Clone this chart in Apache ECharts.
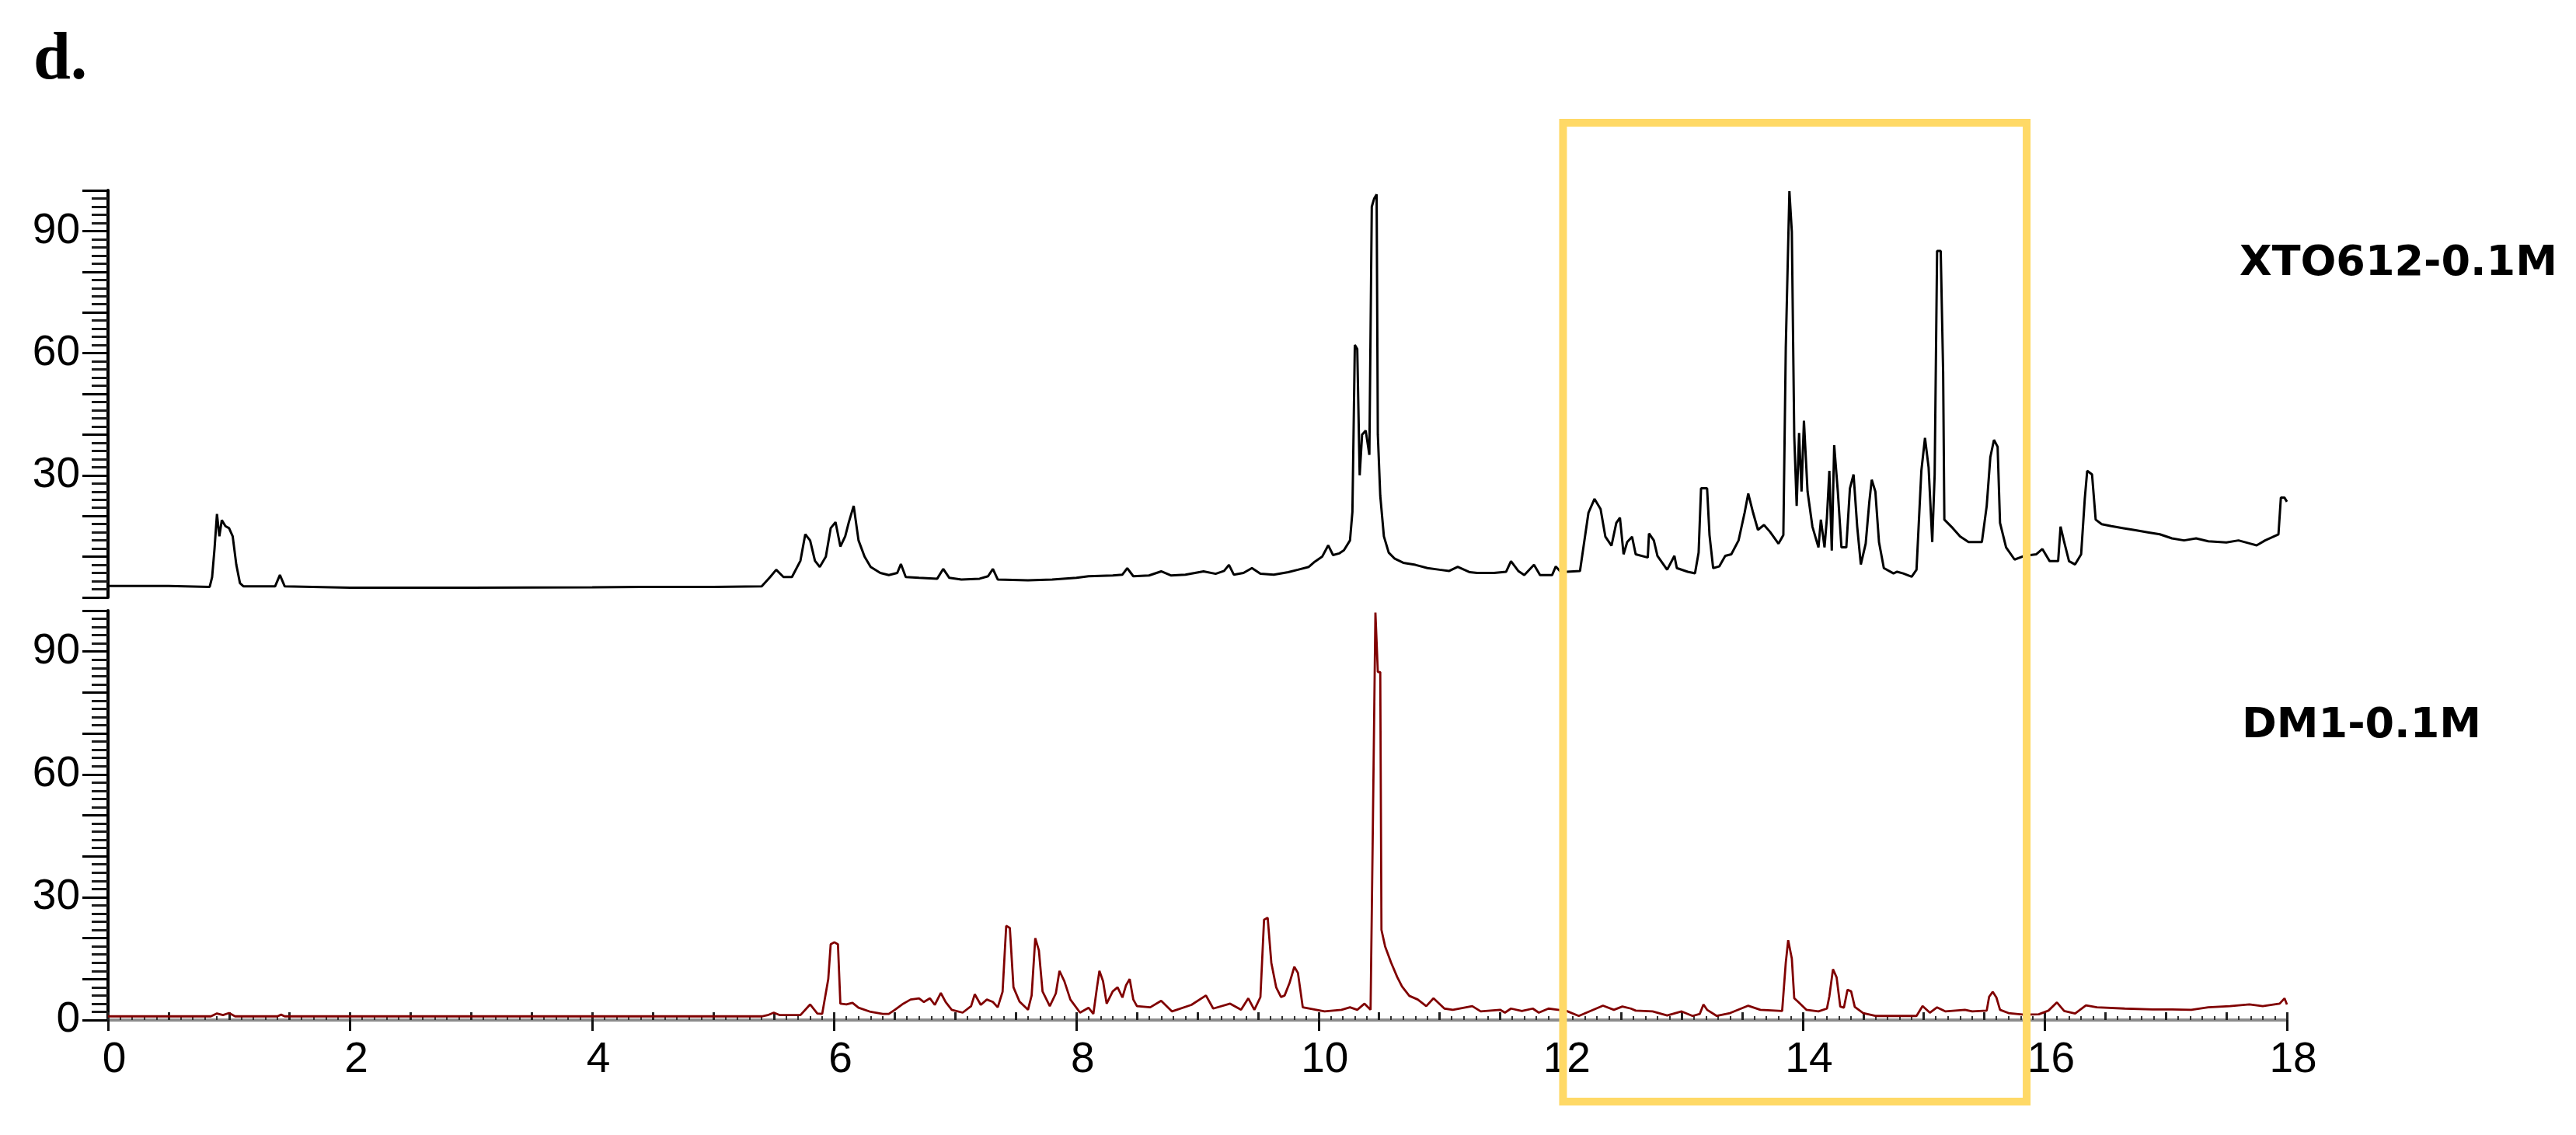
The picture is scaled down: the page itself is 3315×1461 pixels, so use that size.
<!DOCTYPE html>
<html><head><meta charset="utf-8">
<script src="https://cdn.jsdelivr.net/npm/echarts@6/dist/echarts.min.js"></script>
<style>html,body{margin:0;padding:0;background:#fff}#c{width:3315px;height:1461px}</style>
</head><body><div id="c"></div>
<script>
const panelLabel = 'd.';
const xtoName = 'XTO612-0.1M';
const dmName = 'DM1-0.1M';
const timeRange = [0, 18];
const intensityRange = [0, 100];
const highlightRange = [12.02, 15.85];

// XTO612-0.1M chromatogram: [retention time, relative intensity]
const xto612 = [
 [0,2.8],[0.5,2.8],[0.84,2.6],[0.86,5],[0.88,12],[0.9,20.5],[0.92,15],[0.94,19],[0.97,17.5],[1.0,17],[1.03,15],[1.06,8],[1.09,3.5],[1.12,2.7],
 [1.38,2.7],[1.42,5.5],[1.46,2.7],[2.0,2.4],[3.0,2.4],[4.0,2.5],[4.4,2.6],[5.0,2.6],[5.4,2.7],[5.47,5],[5.52,6.8],[5.58,5],[5.65,5],[5.72,9],
 [5.76,15.5],[5.8,14],[5.84,9],[5.88,7.5],[5.93,10],[5.97,17],[6.01,18.5],[6.05,12.5],[6.09,15],[6.12,18.5],[6.16,22.5],[6.2,14],[6.25,10],
 [6.3,7.5],[6.38,6],[6.45,5.5],[6.52,6],[6.55,8.2],[6.59,5],[6.7,4.8],[6.85,4.6],[6.9,7],[6.95,4.8],[7.05,4.4],[7.2,4.6],[7.27,5.2],[7.31,7],
 [7.35,4.4],[7.6,4.2],[7.8,4.4],[8.0,4.8],[8.1,5.2],[8.3,5.4],[8.38,5.6],[8.42,7.2],[8.47,5.2],[8.6,5.4],[8.7,6.4],[8.78,5.4],[8.9,5.6],
 [9.05,6.4],[9.15,5.8],[9.22,6.5],[9.26,8],[9.3,5.6],[9.38,6],[9.45,7.2],[9.52,5.8],[9.63,5.6],[9.75,6.2],[9.83,6.8],[9.92,7.5],[9.97,8.8],
 [10.03,10],[10.08,12.8],[10.12,10.4],[10.17,10.8],[10.21,11.6],[10.26,14],[10.28,21],[10.30,62],[10.32,61],[10.34,30],[10.36,40],[10.39,41],
 [10.42,35],[10.44,96],[10.46,98],[10.48,99],[10.49,40],[10.51,25],[10.54,15],[10.58,11],[10.63,9.5],[10.7,8.5],[10.8,8],[10.9,7.2],[11.0,6.8],
 [11.08,6.5],[11.15,7.5],[11.25,6.2],[11.31,6],[11.45,6],[11.55,6.3],[11.59,8.9],[11.65,6.5],[11.7,5.5],[11.78,8],[11.83,5.5],[11.93,5.5],
 [11.96,7.6],[12.0,6.3],[12.05,6.3],[12.16,6.5],[12.18,10.6],[12.23,20.8],[12.28,24.2],[12.33,21.7],[12.37,14.9],[12.42,12.7],[12.46,18.3],
 [12.49,19.6],[12.52,10.6],[12.55,13.6],[12.59,14.9],[12.62,10.6],[12.72,9.8],[12.73,15.7],[12.77,14],[12.8,10.2],[12.88,6.8],[12.94,10.2],
 [12.96,7.2],[13.05,6.3],[13.11,5.9],[13.14,11],[13.16,26.8],[13.21,26.8],[13.23,15.3],[13.26,7.2],[13.31,7.6],[13.36,10.2],[13.41,10.6],
 [13.47,14],[13.52,20.8],[13.55,25.5],[13.59,20.8],[13.63,16.6],[13.68,17.8],[13.73,16.1],[13.8,13.2],[13.84,15.3],[13.86,61.3],[13.89,99.8],
 [13.91,89.8],[13.93,39.6],[13.95,22.5],[13.97,40.4],[13.99,26],[14.01,43.4],[14.04,26],[14.08,17.4],[14.13,12.3],[14.15,19.1],[14.18,12.3],
 [14.2,19.6],[14.22,31.1],[14.24,11.5],[14.26,37.4],[14.29,26],[14.32,12.3],[14.36,12.3],[14.39,26.8],[14.42,30.2],[14.45,17.4],[14.48,8.1],
 [14.52,13.2],[14.55,23.4],[14.57,28.9],[14.6,26],[14.63,13.6],[14.67,7.2],[14.75,5.9],[14.78,6.3],[14.83,5.9],[14.9,5.1],[14.94,6.8],
 [14.98,31.1],[15.01,39.2],[15.04,31.9],[15.07,13.6],[15.09,30.2],[15.11,85.1],[15.14,85.1],[15.16,55.3],[15.17,19.1],[15.24,17],[15.3,15],
 [15.37,13.6],[15.48,13.6],[15.52,22.5],[15.55,34.5],[15.58,38.7],[15.61,37],[15.63,18.3],[15.68,12.3],[15.75,9.3],[15.83,10.2],[15.93,10.6],
 [15.98,11.9],[16.04,8.9],[16.11,8.9],[16.13,17.4],[16.16,13.6],[16.2,8.9],[16.25,8.1],[16.3,10.6],[16.33,24.2],[16.35,31.1],[16.39,30.2],
 [16.42,19.1],[16.47,18],[16.55,17.5],[16.65,17],[16.75,16.5],[16.85,16],[16.95,15.5],[17.05,14.5],[17.15,14],[17.25,14.5],[17.35,13.8],
 [17.5,13.5],[17.6,14],[17.7,13.2],[17.75,12.8],[17.82,14],[17.88,14.8],[17.93,15.5],[17.95,24.5],[17.98,24.5],[18.0,23.5]
];

// DM1-0.1M chromatogram: [retention time, relative intensity]
const dm1 = [
 [0,0.9],[0.85,0.9],[0.9,1.6],[0.95,1.2],[1.0,1.7],[1.05,0.9],[1.4,0.9],[1.43,1.3],[1.46,0.9],[5.4,0.9],[5.45,1.2],[5.5,1.8],[5.55,1.2],
 [5.72,1.2],[5.8,3.8],[5.86,1.6],[5.9,1.5],[5.95,10],[5.97,18.5],[6.0,19],[6.03,18.5],[6.05,4],[6.1,3.8],[6.15,4.2],[6.2,3],[6.3,2],[6.4,1.5],
 [6.45,1.5],[6.5,2.5],[6.57,4],[6.63,5],[6.7,5.3],[6.74,4.4],[6.79,5.3],[6.83,3.7],[6.88,6.6],[6.92,4.4],[6.97,2.5],[7.06,1.8],[7.13,3.4],
 [7.16,6.3],[7.21,3.7],[7.26,5],[7.31,4.4],[7.35,3.1],[7.39,6.9],[7.42,23],[7.45,22.5],[7.48,8],[7.53,4.5],[7.6,2.5],[7.63,6],[7.66,20],
 [7.69,17],[7.72,7],[7.78,3.4],[7.83,6.5],[7.86,12],[7.9,9.5],[7.95,5],[8.03,1.8],[8.1,3],[8.14,1.5],[8.17,8],[8.19,12],[8.22,9.5],[8.25,4],
 [8.3,7],[8.34,8],[8.38,5.5],[8.41,8.5],[8.44,10],[8.47,5],[8.5,3.4],[8.61,3.1],[8.7,4.7],[8.79,2.1],[8.95,3.7],[9.07,6],[9.13,2.8],[9.27,4],
 [9.36,2.5],[9.42,5.3],[9.47,2.5],[9.52,5.6],[9.55,24.5],[9.58,25],[9.61,14],[9.65,8],[9.69,5.6],[9.72,6],[9.76,9],[9.8,13],[9.83,11.5],
 [9.87,3.1],[10.05,2.1],[10.19,2.5],[10.26,3.1],[10.32,2.5],[10.38,4],[10.43,2.5],[10.45,50],[10.47,99.5],[10.49,85],[10.51,85],[10.52,22],
 [10.55,18],[10.6,14],[10.65,10.5],[10.69,8.2],[10.75,5.9],[10.82,5],[10.89,3.4],[10.95,5.3],[11.04,2.8],[11.11,2.5],[11.27,3.4],[11.34,2.1],
 [11.5,2.5],[11.54,1.8],[11.59,2.8],[11.68,2.2],[11.77,2.8],[11.82,1.8],[11.9,2.8],[11.98,2.5],[12.05,2.2],[12.15,1],[12.35,3.5],[12.44,2.5],
 [12.51,3.3],[12.58,2.8],[12.62,2.3],[12.76,2.1],[12.88,1.1],[13.0,2.1],[13.09,1],[13.15,1.5],[13.18,3.8],[13.21,2.5],[13.29,1],[13.4,1.7],
 [13.55,3.5],[13.65,2.5],[13.83,2.2],[13.86,14],[13.88,19.5],[13.91,15],[13.93,5.3],[13.96,4.5],[14.03,2.5],[14.13,2.1],[14.2,2.8],[14.22,5.8],
 [14.25,12.4],[14.28,10.4],[14.31,3.3],[14.34,3],[14.37,7.4],[14.4,7],[14.43,3.2],[14.5,1.7],[14.6,1],[14.94,1],[14.99,3.4],[15.05,1.8],
 [15.11,3.1],[15.18,2.1],[15.34,2.5],[15.4,2.1],[15.52,2.3],[15.54,5.7],[15.57,6.9],[15.6,5.5],[15.63,2.5],[15.7,1.7],[15.83,1.3],[15.95,1.4],
 [16.03,2.3],[16.1,4.3],[16.16,2.2],[16.25,1.6],[16.34,3.6],[16.43,3.1],[16.66,2.8],[16.89,2.6],[17.05,2.6],[17.21,2.5],[17.35,3.1],[17.53,3.4],
 [17.69,3.8],[17.8,3.4],[17.94,4],[17.98,5.3],[18.0,3.8]
];

const labelFont = {fontFamily: '"Liberation Sans", Arial, sans-serif', fontSize: 55, color: '#000'};

function yAxisFor(grid, showZero) {
  return {
    gridIndex: grid, type: 'value', min: intensityRange[0], max: intensityRange[1], interval: 10,
    axisLine: {show: true, onZero: false, lineStyle: {color: '#000', width: 4}},
    axisTick: {show: true, length: 33, lineStyle: {color: '#000', width: 3}},
    minorTick: {show: true, splitNumber: 5, length: 21, lineStyle: {color: '#1a1a1a', width: 3}},
    splitLine: {show: false}, minorSplitLine: {show: false},
    axisLabel: Object.assign({margin: 36, formatter: v => (v % 30 === 0 && (showZero || v !== 0)) ? String(v) : ''}, labelFont)
  };
}

const chart = echarts.init(document.getElementById('c'), null, {renderer: 'canvas'});
const option = {
  animation: false,
  backgroundColor: '#fff',
  grid: [
    {left: 139, right: 372, top: 245, height: 524},
    {left: 139, right: 372, top: 786, height: 527}
  ],
  xAxis: [
    {gridIndex: 0, type: 'value', min: timeRange[0], max: timeRange[1], show: false},
    {gridIndex: 1, type: 'value', min: timeRange[0], max: timeRange[1], interval: 2,
     axisLine: {show: true, onZero: false, lineStyle: {color: '#8c8c8c', width: 4}},
     axisTick: {show: true, length: 14, lineStyle: {color: '#111', width: 3}},
     splitLine: {show: false},
     axisLabel: Object.assign({margin: 24, padding: [0, 0, 0, 16]}, labelFont)},
    {gridIndex: 1, type: 'value', min: timeRange[0], max: timeRange[1], interval: 0.5,
     axisLine: {show: false},
     axisTick: {show: true, length: 10, lineStyle: {color: '#222', width: 3}},
     minorTick: {show: true, splitNumber: 5, length: 5, lineStyle: {color: '#333', width: 2}},
     splitLine: {show: false}, minorSplitLine: {show: false},
     axisLabel: {show: false}}
  ],
  yAxis: [yAxisFor(0, false), yAxisFor(1, true)],
  series: [
    {name: xtoName, type: 'line', xAxisIndex: 0, yAxisIndex: 0, data: xto612, symbol: 'none',
     lineStyle: {color: '#000', width: 3}, z: 3},
    {name: dmName, type: 'line', xAxisIndex: 1, yAxisIndex: 1, data: dm1, symbol: 'none',
     lineStyle: {color: '#800000', width: 2.8}, z: 3}
  ]
};
chart.setOption(option);

const bx0 = chart.convertToPixel({xAxisIndex: 1}, highlightRange[0]);
const bx1 = chart.convertToPixel({xAxisIndex: 1}, highlightRange[1]);
chart.setOption({
  graphic: [
    {type: 'text', left: 43, top: 36, style: {text: panelLabel, font: 'bold 86px "Liberation Serif", "Times New Roman", serif', fill: '#000'}},
    {type: 'text', x: 2882, y: 340, style: {text: xtoName, font: 'bold 54px "DejaVu Sans", sans-serif', fill: '#000', textVerticalAlign: 'middle'}},
    {type: 'text', x: 2885, y: 935, style: {text: dmName, font: 'bold 54px "DejaVu Sans", sans-serif', fill: '#000', textVerticalAlign: 'middle'}},
    {type: 'rect', z: 100, shape: {x: bx0, y: 158, width: bx1 - bx0, height: 1260},
     style: {fill: 'none', stroke: '#FFD966', lineWidth: 10}}
  ]
});
</script>
</body></html>
